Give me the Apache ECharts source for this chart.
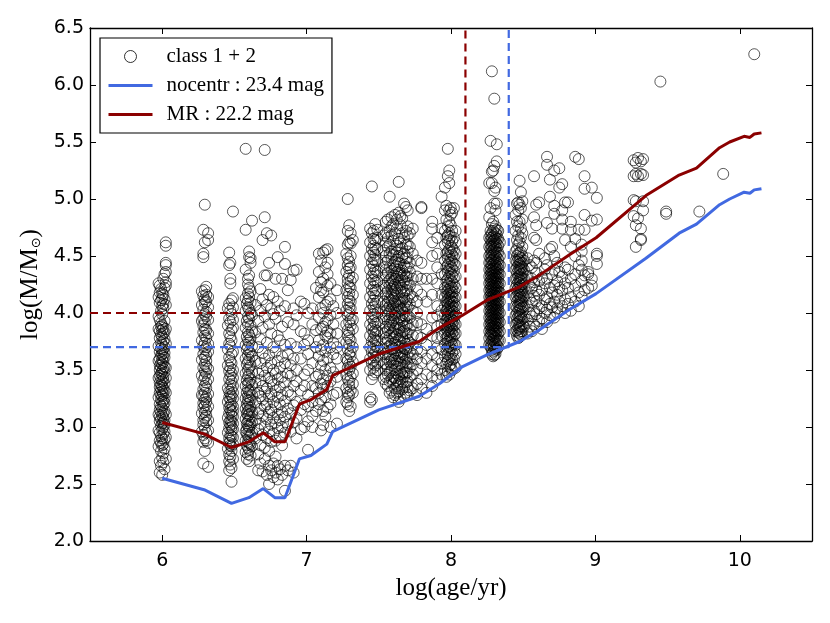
<!DOCTYPE html>
<html>
<head>
<meta charset="utf-8">
<title>log(M/Msun) vs log(age/yr)</title>
<script src="https://cdn.jsdelivr.net/npm/echarts@6/dist/echarts.min.js"></script>
<style>
html,body{margin:0;padding:0;background:#fff}
#chart{width:830px;height:623px}
</style>
</head>
<body>
<div id="chart"></div>
<script>
var xTicks = [6, 7, 8, 9, 10];

// cluster masses, one array per age lane
var lanes = [
 [5.975,[2.83,2.97,3.11,3.26,3.43,3.58,3.71,3.86,3.97,4.14,4.26]],
 [5.983,[2.6,2.7,2.88,2.95,3.05,3.09,3.15,3.2,3.3,3.35,3.39,3.45,3.5,3.54,3.6,3.66,3.78,3.84,3.94,4.09,4.18,4.24]],
 [5.992,[2.66,2.79,2.86,2.92,3.01,3.07,3.13,3.18,3.24,3.28,3.33,3.37,3.42,3.47,3.52,3.56,3.63,3.69,3.74,3.81,3.88,3.91,4.02,4.11,4.21]],
 [6.0,[2.58,2.73,2.84,2.9,2.98,3.03,3.1,3.16,3.22,3.27,3.31,3.36,3.4,3.46,3.49,3.55,3.59,3.64,3.67,3.72,3.79,3.85,3.89,3.99,4.06,4.13,4.17]],
 [6.008,[2.69,2.77,2.85,2.94,3.0,3.04,3.08,3.12,3.19,3.23,3.29,3.34,3.41,3.44,3.51,3.57,3.62,3.68,3.75,3.82,3.87,4.04,4.08,4.16,4.3]],
 [6.016,[2.63,2.81,2.89,2.96,3.02,3.06,3.14,3.21,3.25,3.32,3.38,3.48,3.53,3.61,3.65,3.7,3.77,3.83,3.93,4.12,4.22,4.34]],
 [6.025,[2.72,2.91,3.11,3.3,3.43,3.52,3.73,3.86,4.07,4.24,4.27,4.36,4.42,4.44,4.59,4.62]],
 [6.275,[2.96,3.12,3.28,3.45,3.59,3.76,3.93,4.07,4.19]],
 [6.285,[2.68,2.87,2.93,3.02,3.06,3.17,3.21,3.27,3.33,3.41,3.52,3.64,3.71,3.83,3.89,3.95,4.03,4.15,4.52,4.49,4.73]],
 [6.295,[2.79,2.9,2.99,3.08,3.13,3.19,3.24,3.3,3.36,3.44,3.49,3.55,3.61,3.68,3.74,3.8,3.86,3.92,3.99,4.09,4.12,4.2,4.95,4.62]],
 [6.305,[2.88,2.95,3.04,3.1,3.15,3.22,3.26,3.34,3.39,3.47,3.53,3.58,3.63,3.7,3.78,3.85,3.97,4.01,4.1,4.16,4.23]],
 [6.318,[2.65,2.86,2.97,3.06,3.18,3.29,3.42,3.51,3.66,3.73,3.82,3.94,4.05,4.14,4.7,4.64]],
 [6.455,[2.81,2.95,3.08,3.22,3.34,3.54,3.68,3.89,4.04]],
 [6.464,[2.62,2.7,2.76,2.86,2.9,2.99,3.04,3.12,3.17,3.26,3.31,3.42,3.49,3.61,3.73,3.82,3.95,4.08,4.42,4.53]],
 [6.472,[2.67,2.74,2.84,2.88,2.93,3.02,3.06,3.15,3.19,3.24,3.29,3.37,3.45,3.52,3.58,3.71,3.79,3.92,4.02,4.3,4.26,4.44]],
 [6.48,[2.52,2.64,2.79,2.83,2.92,2.97,3.0,3.05,3.1,3.13,3.2,3.27,3.33,3.4,3.47,3.56,3.64,3.76,3.85,3.99,4.11]],
 [6.49,[2.72,2.85,2.91,2.98,3.03,3.09,3.14,3.18,3.25,3.3,3.36,3.43,3.5,3.66,3.87,3.94,4.05,4.13,4.89]],
 [6.578,[2.78,2.88,2.96,3.07,3.16,3.25,3.36,3.47,3.6,3.72,3.87,4.02,4.13,4.38,4.73,5.44]],
 [6.586,[2.72,2.84,2.94,2.98,3.03,3.12,3.2,3.3,3.41,3.55,3.68,3.79,3.93,4.08]],
 [6.594,[2.76,2.82,2.87,2.92,3.01,3.05,3.1,3.14,3.18,3.23,3.27,3.33,3.38,3.44,3.5,3.57,3.63,3.7,3.76,3.83,3.9,3.97,4.05,4.11,4.17,4.25,4.3]],
 [6.602,[2.7,2.8,2.86,2.91,2.97,3.0,3.06,3.11,3.15,3.21,3.26,3.31,3.39,3.46,3.52,3.59,3.66,3.74,3.81,3.95,4.03,4.14,4.22,4.33,4.54,4.49]],
 [6.612,[2.75,2.85,2.93,3.02,3.09,3.17,3.24,3.32,3.42,3.54,3.65,3.78,3.89,4.0,4.09,4.19,4.44,4.48]],
 [6.622,[2.83,2.95,3.04,3.13,3.28,3.37,3.48,3.62,3.71,3.84,3.98,4.81]],
 [6.645,[2.9,3.06,3.22,3.39,3.58,3.83,4.07]],
 [6.665,[2.62,2.76,2.98,3.12,3.3,3.47,3.7,3.93]],
 [6.68,[2.68,2.84,3.03,3.16,3.27,3.41,3.56,3.77,4.02,4.21]],
 [6.695,[2.61,2.93,3.1,3.24,3.36,3.49,3.65,3.87,4.12,4.64]],
 [6.71,[2.72,2.82,3.0,3.18,3.31,3.45,3.6,3.97,4.33,4.84,5.43]],
 [6.725,[2.58,2.9,3.07,3.2,3.34,3.52,3.74,4.07,4.33,4.7]],
 [6.74,[2.5,2.66,2.79,2.96,3.13,3.27,3.43,3.63,3.9,4.16,4.44]],
 [6.755,[2.62,2.87,3.02,3.15,3.29,3.4,3.56,3.82,4.04,4.68]],
 [6.77,[2.56,2.68,2.94,3.08,3.22,3.37,3.5,3.7,3.99,4.14]],
 [6.785,[2.6,2.74,2.88,3.04,3.18,3.32,3.47,3.66,3.95,4.3]],
 [6.8,[2.54,2.66,2.99,3.11,3.26,3.42,3.58,3.8,4.1,4.49]],
 [6.815,[2.63,2.92,3.06,3.2,3.35,3.52,3.76,4.02]],
 [6.83,[2.58,2.84,3.0,3.13,3.28,3.44,3.62,3.88,4.3]],
 [6.85,[2.44,2.66,2.95,3.09,3.23,3.39,3.56,3.72,4.06,4.43,4.58]],
 [6.87,[2.62,3.02,3.16,3.31,3.47,3.64,3.92,4.2]],
 [6.89,[2.66,2.96,3.12,3.28,3.45,3.54,3.73,4.29]],
 [6.91,[2.6,3.04,3.19,3.36,3.6,3.9,4.04,4.37]],
 [6.93,[2.9,3.08,3.22,3.4,3.5,3.7,3.98,4.38]],
 [6.96,[2.98,3.15,3.32,3.6,3.84,4.1]],
 [6.985,[3.0,3.2,3.36,3.46,3.72,3.82,4.08]],
 [7.01,[2.8,3.05,3.18,3.28,3.5,3.64,3.76,4.0]],
 [7.04,[3.0,3.1,3.22,3.36,3.56,3.9,4.04]],
 [7.065,[3.14,3.34,3.44,3.7,3.85,4.22]],
 [7.085,[3.2,3.3,3.46,3.62,3.76,3.96,4.14,4.36,4.52]],
 [7.1,[2.97,3.24,3.38,3.54,3.68,3.86,4.04,4.2,4.27,4.46]],
 [7.115,[3.02,3.14,3.34,3.42,3.58,3.72,3.88,4.0,4.18,4.3,4.53]],
 [7.13,[3.09,3.26,3.5,3.66,3.8,3.92,4.07,4.4,4.55]],
 [7.145,[3.17,3.36,3.45,3.6,3.78,3.84,3.94,4.1,4.24,4.34,4.44,4.56]],
 [7.165,[3.0,3.2,3.4,3.52,3.7,3.82,3.98,4.12,4.26]],
 [7.185,[3.28,3.48,3.64,3.74,3.9,4.06]],
 [7.21,[3.03,3.3,3.44,3.6,3.7,3.82,4.0,4.2]],
 [7.275,[3.22,3.34,3.46,3.6,3.74,3.9,4.02,4.2,4.36,4.52]],
 [7.285,[3.2,3.26,3.3,3.42,3.52,3.58,3.68,3.8,3.85,3.98,4.08,4.14,4.26,4.3,4.42,4.48,4.6,4.72,5.0]],
 [7.295,[3.14,3.28,3.36,3.4,3.5,3.55,3.64,3.72,3.78,3.83,3.92,4.0,4.05,4.11,4.17,4.23,4.33,4.39,4.45,4.62,4.77]],
 [7.305,[3.18,3.32,3.44,3.53,3.62,3.66,3.76,3.89,3.95,4.04,4.1,4.22,4.28,4.4,4.5,4.61,4.7]],
 [7.32,[3.3,3.38,3.47,3.57,3.7,3.86,3.94,4.16,4.31,4.64]],
 [7.44,[3.22,3.26,3.5,3.6,3.7,3.8,3.9,4.02,4.14,4.26,4.38,4.5,4.62,4.74]],
 [7.452,[3.24,3.42,3.56,3.66,3.75,3.86,3.96,4.08,4.2,4.32,4.44,4.56,4.7,5.11]],
 [7.464,[3.46,3.52,3.58,3.63,3.68,3.73,3.78,3.83,3.88,3.93,3.99,4.05,4.11,4.17,4.23,4.29,4.35,4.41,4.47,4.53,4.59,4.65,4.72]],
 [7.476,[3.48,3.54,3.61,3.66,3.71,3.76,3.81,3.85,3.91,3.97,4.03,4.08,4.15,4.2,4.27,4.33,4.38,4.46,4.51,4.57,4.64,4.78]],
 [7.49,[3.5,3.56,3.62,3.7,3.76,3.84,3.92,4.0,4.1,4.2,4.28,4.36,4.46,4.56,4.66,4.73]],
 [7.535,[3.42,3.56,3.68,3.82,3.95,4.1,4.24,4.4,4.55,4.68]],
 [7.548,[3.38,3.44,3.5,3.55,3.64,3.74,3.78,3.83,3.88,3.97,4.02,4.07,4.17,4.22,4.33,4.38,4.44,4.5,4.62,4.7,4.8]],
 [7.562,[3.36,3.46,3.52,3.6,3.66,3.7,3.76,3.85,3.93,3.99,4.04,4.09,4.14,4.19,4.27,4.35,4.46,4.58,4.66,4.82]],
 [7.575,[3.3,3.4,3.48,3.57,3.62,3.71,3.8,3.87,3.9,3.95,4.01,4.06,4.12,4.24,4.29,4.4,4.52,4.6,4.72,5.02]],
 [7.588,[3.32,3.42,3.5,3.54,3.59,3.68,3.73,3.82,3.92,3.98,4.03,4.11,4.16,4.21,4.26,4.31,4.37,4.48,4.54,4.68,4.76,4.84]],
 [7.6,[3.26,3.38,3.44,3.56,3.63,3.69,3.78,3.84,3.89,3.94,4.05,4.08,4.13,4.18,4.23,4.28,4.34,4.42,4.51,4.63,4.78]],
 [7.612,[3.28,3.34,3.43,3.5,3.6,3.65,3.74,3.79,3.86,3.96,4.0,4.1,4.15,4.2,4.25,4.3,4.39,4.45,4.56,4.7,4.86]],
 [7.625,[3.3,3.36,3.41,3.47,3.53,3.58,3.67,3.72,3.81,3.91,4.02,4.07,4.17,4.22,4.32,4.36,4.41,4.47,4.53,4.59,4.74,4.82]],
 [7.638,[3.22,3.31,3.39,3.45,3.55,3.62,3.7,3.77,3.85,3.9,3.96,4.01,4.06,4.12,4.27,4.33,4.38,4.44,4.5,4.65,4.88,5.15]],
 [7.65,[3.25,3.37,3.42,3.49,3.56,3.61,3.66,3.75,3.8,3.87,3.95,4.04,4.09,4.19,4.24,4.29,4.35,4.43,4.56,4.62,4.77,4.85]],
 [7.662,[3.33,3.4,3.46,3.52,3.6,3.64,3.71,3.78,3.83,3.93,3.98,4.03,4.11,4.16,4.22,4.31,4.37,4.49,4.57,4.7,4.83]],
 [7.675,[3.27,3.35,3.44,3.48,3.57,3.63,3.69,3.76,3.84,3.88,3.94,4.0,4.05,4.13,4.18,4.28,4.34,4.42,4.52,4.66,4.96]],
 [7.688,[3.3,3.39,3.47,3.54,3.59,3.68,3.73,3.82,3.89,3.97,4.06,4.1,4.2,4.26,4.32,4.4,4.48,4.6,4.72,4.93]],
 [7.7,[3.28,3.35,3.4,3.48,3.56,3.62,3.7,3.76,3.82,3.9,3.98,4.05,4.12,4.2,4.26,4.32,4.4,4.48,4.54,4.6,4.68,4.76,4.9]],
 [7.715,[3.32,3.44,3.52,3.6,3.66,3.74,3.86,3.96,4.08,4.16,4.24,4.36,4.44,4.58,4.7]],
 [7.735,[3.34,3.46,3.55,3.64,3.72,3.8,3.9,4.02,4.14,4.3,4.52,4.74]],
 [7.765,[3.28,3.38,3.5,3.6,3.68,3.8,3.92,4.0,4.1,4.2,4.32,4.46]],
 [7.795,[3.34,3.42,3.56,3.66,3.78,3.9,4.16,4.3,4.44,4.92,4.93]],
 [7.83,[3.3,3.46,3.6,3.72,3.86,4.1,4.3]],
 [7.87,[3.36,3.44,3.54,3.64,3.8,3.96,4.16,4.3,4.5,4.62,4.74,4.8]],
 [7.905,[3.42,3.5,3.6,3.7,3.78,3.88,3.98,4.06,4.26,4.4,4.52,4.66]],
 [7.935,[3.46,3.56,3.68,3.8,3.9,4.02,4.16,4.34,4.74,5.02]],
 [7.958,[3.5,3.62,3.73,3.82,3.9,3.98,4.06,4.14,4.22,4.34,4.46,4.6,4.72,4.9,5.1]],
 [7.968,[3.44,3.56,3.68,3.78,3.86,3.94,4.02,4.1,4.18,4.28,4.4,4.52,4.66,4.82,4.94]],
 [7.978,[3.48,3.58,3.64,3.7,3.75,3.8,3.84,3.88,3.92,3.96,4.0,4.04,4.08,4.12,4.16,4.2,4.24,4.3,4.36,4.42,4.48,4.54,4.62,4.68,4.76,5.2,5.44]],
 [7.988,[3.46,3.54,3.6,3.66,3.71,3.76,3.81,3.85,3.89,3.93,3.97,4.01,4.05,4.09,4.13,4.17,4.21,4.26,4.32,4.38,4.44,4.5,4.56,4.64,4.7,4.8,4.9,5.14,5.25]],
 [7.998,[3.52,3.55,3.62,3.69,3.74,3.79,3.83,3.87,3.91,3.95,3.99,4.03,4.07,4.11,4.15,4.19,4.23,4.29,4.35,4.41,4.47,4.53,4.59,4.67,4.77,4.86,4.92]],
 [8.008,[3.5,3.59,3.65,3.72,3.77,3.82,3.86,3.9,3.94,3.98,4.02,4.06,4.1,4.14,4.18,4.22,4.27,4.33,4.39,4.45,4.51,4.57,4.63,4.72,4.88]],
 [8.02,[3.54,3.6,3.67,3.73,3.8,3.84,3.89,3.93,3.97,4.01,4.05,4.09,4.13,4.19,4.25,4.31,4.37,4.43,4.49,4.55,4.66,4.92]],
 [8.032,[3.52,3.64,3.72,3.82,3.9,3.98,4.06,4.14,4.22,4.32,4.42,4.52,4.62,4.72]],
 [8.265,[3.72,3.78,3.84,3.9,3.96,4.02,4.08,4.14,4.2,4.26,4.32,4.38,4.44,4.5,4.58,4.66,4.84,5.14]],
 [8.274,[3.7,3.74,3.8,3.82,3.86,3.89,3.92,3.95,3.98,4.01,4.04,4.07,4.1,4.13,4.16,4.19,4.22,4.25,4.28,4.31,4.34,4.37,4.4,4.44,4.48,4.52,4.56,4.6,4.64,4.68,4.72,4.92,5.51]],
 [8.283,[3.64,3.68,3.72,3.76,3.81,3.84,3.87,3.9,3.93,3.96,3.99,4.02,4.05,4.08,4.11,4.14,4.17,4.2,4.23,4.26,4.29,4.32,4.35,4.38,4.42,4.46,4.5,4.54,4.58,4.62,4.66,4.7,4.78,5.14,5.24,6.12]],
 [8.292,[3.62,3.66,3.7,3.73,3.77,3.8,3.83,3.86,3.88,3.91,3.94,3.97,4.0,4.03,4.06,4.09,4.12,4.15,4.18,4.21,4.24,4.27,4.3,4.33,4.36,4.39,4.43,4.47,4.51,4.55,4.59,4.63,4.67,4.72,4.8,5.25]],
 [8.3,[3.63,3.67,3.71,3.75,3.79,3.82,3.85,3.89,3.92,3.95,3.98,4.01,4.04,4.07,4.1,4.13,4.16,4.19,4.22,4.25,4.28,4.31,4.34,4.37,4.4,4.44,4.48,4.52,4.56,4.6,4.64,4.68,4.74,4.96,5.07,5.29,5.88]],
 [8.308,[3.64,3.69,3.74,3.78,3.82,3.85,3.88,3.91,3.94,3.97,4.0,4.03,4.06,4.09,4.12,4.15,4.18,4.21,4.24,4.27,4.3,4.33,4.36,4.39,4.42,4.46,4.5,4.54,4.58,4.62,4.66,4.7,4.76,4.9,5.1]],
 [8.317,[3.68,3.72,3.76,3.8,3.84,3.87,3.9,3.93,3.96,3.99,4.02,4.05,4.08,4.11,4.14,4.17,4.2,4.23,4.26,4.29,4.32,4.35,4.38,4.41,4.45,4.49,4.53,4.57,4.61,4.65,4.69,4.73,4.96,5.33,5.48]],
 [8.327,[3.7,3.76,3.82,3.87,3.91,3.95,3.99,4.03,4.07,4.11,4.15,4.19,4.23,4.27,4.31,4.35,4.39,4.43,4.47,4.53,4.59,4.65,4.72]],
 [8.338,[3.76,3.84,3.92,4.0,4.1,4.18,4.26,4.34,4.42,4.5,4.62]],
 [8.447,[3.84,3.9,3.98,4.06,4.14,4.22,4.3,4.38,4.46,4.54,4.72,4.86]],
 [8.457,[3.8,3.85,3.91,3.95,4.0,4.05,4.1,4.15,4.2,4.25,4.3,4.35,4.4,4.45,4.5,4.56,4.64,4.8,4.96]],
 [8.466,[3.78,3.83,3.87,3.92,3.97,4.02,4.07,4.12,4.17,4.22,4.27,4.32,4.37,4.42,4.47,4.52,4.6,4.68,4.76,4.9,4.97]],
 [8.475,[3.79,3.82,3.86,3.89,3.93,3.96,3.99,4.03,4.06,4.09,4.13,4.16,4.19,4.23,4.26,4.29,4.33,4.36,4.39,4.43,4.46,4.49,4.53,4.62,4.8,4.95,5.16]],
 [8.484,[3.81,3.84,3.88,3.94,3.98,4.04,4.08,4.11,4.14,4.18,4.21,4.24,4.28,4.31,4.34,4.38,4.41,4.44,4.48,4.54,4.66,4.74,4.92,5.06]],
 [8.494,[3.84,3.9,3.95,4.01,4.05,4.1,4.16,4.2,4.25,4.3,4.35,4.4,4.44,4.5,4.58,4.7,4.82,4.98]],
 [8.505,[3.88,3.96,4.06,4.14,4.22,4.3,4.38,4.46]],
 // loose part between 8.5 and 9.05
 [8.53,[3.82,3.94,4.06,4.18,4.32,4.48]],
 [8.545,[3.88,4.0,4.12,4.24,4.42]],
 [8.56,[3.84,3.97,4.09,4.22,4.3,4.4]],
 [8.575,[3.9,4.02,4.15,4.27,4.46,4.66,4.84,5.2]],
 [8.59,[3.88,3.99,4.1,4.2,4.35,4.44,4.64,4.77,4.95]],
 [8.61,[3.93,4.04,4.16,4.28,4.52,4.97]],
 [8.63,[3.86,3.95,4.06,4.2,4.31]],
 [8.65,[4.0,4.12,4.26,4.38,4.48]],
 [8.665,[3.92,4.03,4.14,4.3,4.42,4.79,5.3,5.37]],
 [8.685,[3.98,4.08,4.22,4.56,5.02,5.17]],
 [8.7,[4.05,4.18,4.34,4.58,4.74]],
 [8.715,[3.96,4.1,4.24,4.38,4.5,4.87,4.94,5.25]],
 [8.735,[4.0,4.04,4.16,4.28,4.44]],
 [8.75,[4.1,4.22,4.36,5.1,5.27]],
 [8.77,[4.06,4.2,4.32,4.74,4.82,4.9,5.13]],
 [8.79,[4.0,4.12,4.26,4.4,4.64,4.97]],
 [8.81,[4.08,4.22,4.38,4.97]],
 [8.83,[4.02,4.14,4.3,4.58,4.73,4.8]],
 [8.86,[4.1,4.24,4.34,4.5,4.65,5.37]],
 [8.885,[4.06,4.18,4.42,4.73,5.35]],
 [8.905,[4.14,4.28,4.38,4.46,4.54,4.6]],
 [8.925,[4.2,4.33,4.73,4.86,5.09,5.2]],
 [8.95,[4.22,4.34,4.36]],
 [8.975,[4.24,4.3,4.81,5.1]],
 [9.01,[4.43,4.5,4.52,4.82,5.01]],
 [9.265,[4.85,4.99,5.2,5.34]],
 [9.28,[4.58,4.77,4.98,5.22,5.32]],
 [9.295,[4.83,5.2,5.36]],
 [9.315,[4.64,4.65,4.74,5.22,5.33]],
 [9.33,[4.9,4.98,5.21,5.35]]
];
// isolated far-right points
var looseAges = [9.45, 9.49, 9.49, 9.72, 9.885, 10.1];
var looseMasses = [6.03, 4.89, 4.87, 4.89, 5.22, 6.27];

var tracksAge = [6.0,6.29,6.48,6.6,6.7,6.78,6.85,6.95,7.03,7.14,7.18,7.5,7.78,7.92,8.08,8.245,8.475,8.61,8.82,9.005,9.35,9.58,9.7,9.86,9.93,10.03,10.07,10.1,10.15];
var nocentrMass = [2.55,2.45,2.33,2.38,2.46,2.38,2.38,2.72,2.75,2.85,2.96,3.15,3.27,3.38,3.53,3.63,3.75,3.85,4.03,4.17,4.48,4.7,4.78,4.95,5.0,5.06,5.05,5.08,5.09];
var mrMass = [3.04,2.94,2.82,2.87,2.95,2.87,2.87,3.2,3.24,3.33,3.45,3.64,3.75,3.87,3.98,4.11,4.23,4.33,4.51,4.66,5.03,5.21,5.27,5.45,5.5,5.55,5.54,5.57,5.58];

var nocentrLimit = [[5.5,3.7],[8.4,3.7],[8.4,6.5]];
var mrLimit = [[5.5,4.0],[8.1,4.0],[8.1,6.5]];

var points = [];
lanes.forEach(function (lane) {
    lane[1].forEach(function (m) { points.push([lane[0], m]); });
});
looseAges.forEach(function (a, i) { points.push([a, looseMasses[i]]); });

function pairs(xs, ys) {
    return xs.map(function (x, i) { return [x, ys[i]]; });
}

var serif = '"Liberation Serif"';
var sans = '"DejaVu Sans"';
var frame = { show: true, onZero: false, lineStyle: { color: '#000', width: 1.3 } };
var tick = { show: true, inside: true, length: 6, lineStyle: { color: '#000', width: 1 } };
var noDot = { color: 'transparent', borderColor: 'transparent', borderWidth: 0 };

var myChart = echarts.init(document.getElementById('chart'));
var option = {
    animation: false,
    backgroundColor: '#fff',
    grid: { left: 90, right: 18, top: 28, bottom: 82 },
    legend: {
        left: 100, top: 38, orient: 'vertical', align: 'left',
        data: [
            { name: 'class 1 + 2', itemStyle: { color: 'transparent', borderColor: '#000', borderWidth: 1 } },
            { name: 'nocentr : 23.4 mag', itemStyle: noDot },
            { name: 'MR : 22.2 mag', itemStyle: noDot }
        ],
        lineStyle: { width: 3 },
        backgroundColor: '#fff', borderColor: '#000', borderWidth: 1.2,
        padding: [8, 8, 8, 7], itemWidth: 44, itemHeight: 12, itemGap: 8,
        textStyle: { fontFamily: serif, fontSize: 21, color: '#000', padding: [0, 0, 0, 9] }
    },
    xAxis: [{
        type: 'value', min: 5.5, max: 10.5, position: 'bottom',
        name: 'log(age/yr)', nameLocation: 'middle', nameGap: 35,
        nameTextStyle: { fontFamily: serif, fontSize: 25, color: '#000' },
        axisLine: frame,
        axisTick: Object.assign({ customValues: xTicks }, tick),
        axisLabel: { customValues: xTicks, color: '#000', fontFamily: sans, fontSize: 19, margin: 11 },
        splitLine: { show: false }
    }, {
        type: 'value', min: 5.5, max: 10.5, position: 'top',
        axisLine: frame,
        axisTick: Object.assign({ customValues: xTicks }, tick),
        axisLabel: { show: false },
        splitLine: { show: false }
    }],
    yAxis: [{
        type: 'value', min: 2, max: 6.5, interval: 0.5, position: 'left',
        name: '{a|log(M/M}{b|⊙}{a|)}', nameLocation: 'middle', nameRotate: 90, nameGap: 42,
        nameTextStyle: { rich: {
            a: { fontFamily: serif, fontSize: 25, color: '#000' },
            b: { fontFamily: sans, fontSize: 13, color: '#000', verticalAlign: 'bottom', padding: [8, 0, 0, 0] }
        } },
        axisLine: frame, axisTick: tick,
        axisLabel: { color: '#000', fontFamily: sans, fontSize: 19, margin: 6,
            formatter: function (v) { return v.toFixed(1); } },
        splitLine: { show: false }
    }, {
        type: 'value', min: 2, max: 6.5, interval: 0.5, position: 'right',
        axisLine: frame, axisTick: tick, axisLabel: { show: false },
        splitLine: { show: false }
    }],
    series: [{
        name: 'class 1 + 2', type: 'scatter', data: points, large: false,
        symbol: 'circle', symbolSize: 11, z: 2,
        itemStyle: { color: 'transparent', borderColor: 'rgba(0,0,0,0.9)', borderWidth: 0.9 }
    }, {
        type: 'line', data: nocentrLimit, symbol: 'none', z: 3, silent: true,
        lineStyle: { color: '#4169e1', width: 2.2, type: [8, 5] }
    }, {
        type: 'line', data: mrLimit, symbol: 'none', z: 3, silent: true,
        lineStyle: { color: '#8b0000', width: 2.2, type: [8, 5] }
    }, {
        name: 'nocentr : 23.4 mag', type: 'line', data: pairs(tracksAge, nocentrMass), symbol: 'none', z: 4,
        lineStyle: { color: '#4169e1', width: 3 }, itemStyle: { color: '#4169e1' }
    }, {
        name: 'MR : 22.2 mag', type: 'line', data: pairs(tracksAge, mrMass), symbol: 'none', z: 4,
        lineStyle: { color: '#8b0000', width: 3 }, itemStyle: { color: '#8b0000' }
    }]
};
myChart.setOption(option);
</script>
</body>
</html>
